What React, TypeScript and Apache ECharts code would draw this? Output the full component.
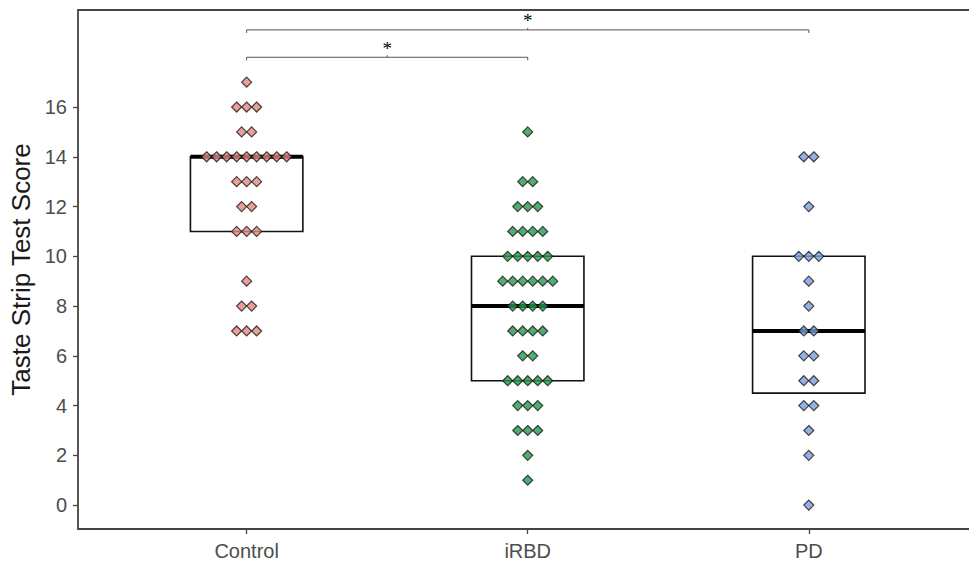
import React, { useEffect, useRef } from "react";
import * as echarts from "echarts";

const categories = ["Control", "iRBD", "PD"];
const controlScores = [17, 16, 16, 16, 15, 15, 14, 14, 14, 14, 14, 14, 14, 14, 14, 13, 13, 13, 12, 12, 11, 11, 11, 9, 8, 8, 7, 7, 7];
const irbdScores = [15, 13, 13, 12, 12, 12, 11, 11, 11, 11, 10, 10, 10, 10, 10, 9, 9, 9, 9, 9, 9, 8, 8, 8, 8, 7, 7, 7, 7, 6, 6, 5, 5, 5, 5, 5, 4, 4, 4, 3, 3, 3, 2, 1];
const pdScores = [14, 14, 12, 10, 10, 10, 9, 8, 7, 7, 6, 6, 5, 5, 4, 4, 3, 2, 0];
const groupColors = ["#E5877F", "#23994A", "#789DE0"];
const boxQ1 = [11, 5, 4.5];
const boxMedian = [14, 8, 7];
const boxQ3 = [14, 10, 10];
const bracketFrom = [1, 1];
const bracketTo = [2, 3];
const bracketY = [18.0, 19.1];
const bracketLabel = ["*", "*"];
const yTicks = [0, 2, 4, 6, 8, 10, 12, 14, 16];

const DOT_STEP = 0.0356;
const BOX_WIDTH = 0.4;

function stackDots(scores: number[], center: number) {
  const counts: Record<string, number> = {};
  scores.forEach((s) => (counts[s] = (counts[s] || 0) + 1));
  const pts: number[][] = [];
  Object.keys(counts).forEach((k) => {
    const n = counts[k];
    for (let i = 0; i < n; i++) {
      pts.push([center + (i - (n - 1) / 2) * DOT_STEP, Number(k)]);
    }
  });
  return pts;
}

export default function App() {
  const ref = useRef<HTMLDivElement>(null);
  useEffect(() => {
    document.body.style.margin = "0";
    const chart = echarts.init(ref.current!, null, { renderer: "svg" });
    const groups = [controlScores, irbdScores, pdScores];
    const axisColor = "#444";
    const font = "Liberation Sans, Arial, sans-serif";
    const option: any = {
      animation: false,
      backgroundColor: "#ffffff",
      grid: { left: 78, right: 0, top: 10, bottom: 38, containLabel: false, outerBoundsMode: "none" },
      xAxis: [
        {
          type: "value",
          min: 0.4,
          max: 3.57,
          splitLine: { show: false },
          axisLine: { show: true, onZero: false, lineStyle: { color: axisColor, width: 1.8 } },
          axisTick: { show: true, length: 5, customValues: [1, 2, 3], lineStyle: { color: axisColor, width: 1.3 } },
          axisLabel: {
            customValues: [1, 2, 3],
            formatter: (v: number) => categories[Math.round(v) - 1] || "",
            color: "#4d4d4d",
            fontSize: 20,
            fontFamily: font,
            margin: 12,
          },
        },
        {
          type: "value",
          position: "top",
          min: 0.4,
          max: 3.57,
          splitLine: { show: false },
          axisLine: { show: true, onZero: false, lineStyle: { color: axisColor, width: 1.8 } },
          axisTick: { show: false },
          axisLabel: { show: false },
        },
      ],
      yAxis: {
        type: "value",
        min: -0.96,
        max: 19.9,
        name: "Taste Strip Test Score",
        nameLocation: "middle",
        nameGap: 42,
        nameRotate: 90,
        nameTextStyle: { color: "#1a1a1a", fontSize: 26, fontFamily: font },
        splitLine: { show: false },
        axisLine: { show: true, onZero: false, lineStyle: { color: axisColor, width: 1.8 } },
        axisTick: { show: true, length: 5, customValues: yTicks, lineStyle: { color: axisColor, width: 1.3 } },
        axisLabel: {
          customValues: yTicks,
          color: "#4d4d4d",
          fontSize: 20,
          fontFamily: font,
          margin: 11,
        },
      },
      series: [
        {
          type: "custom",
          z: 2,
          data: categories.map((_, i) => [i + 1, boxQ1[i], boxMedian[i], boxQ3[i]]),
          renderItem: (params: any, api: any) => {
            const x = api.value(0);
            const q1 = api.value(1);
            const med = api.value(2);
            const q3 = api.value(3);
            const tl = api.coord([x - BOX_WIDTH / 2, q3]);
            const br = api.coord([x + BOX_WIDTH / 2, q1]);
            const ml = api.coord([x - BOX_WIDTH / 2, med]);
            const mr = api.coord([x + BOX_WIDTH / 2, med]);
            return {
              type: "group",
              children: [
                {
                  type: "rect",
                  shape: { x: tl[0], y: tl[1], width: br[0] - tl[0], height: br[1] - tl[1] },
                  style: { fill: "none", stroke: "#111", lineWidth: 1.6 },
                },
                {
                  type: "line",
                  shape: { x1: ml[0], y1: ml[1], x2: mr[0], y2: mr[1] },
                  style: { stroke: "#000", lineWidth: 4 },
                },
              ],
            };
          },
        },
        ...groups.map((scores, gi) => ({
          type: "scatter",
          z: 3,
          symbol: "diamond",
          symbolSize: 10,
          itemStyle: { color: groupColors[gi], borderColor: "#1a1a1a", borderWidth: 1.2 },
          data: stackDots(scores, gi + 1),
        })),
        {
          type: "custom",
          z: 4,
          data: bracketFrom.map((f, i) => [f, bracketTo[i], bracketY[i], i]),
          renderItem: (params: any, api: any) => {
            const x1 = api.value(0);
            const x2 = api.value(1);
            const y = api.value(2);
            const idx = api.value(3);
            const a = api.coord([x1, y]);
            const b = api.coord([x2, y]);
            const mid = (a[0] + b[0]) / 2;
            const stroke = { stroke: "#555", lineWidth: 1, fill: "none" };
            return {
              type: "group",
              children: [
                {
                  type: "polyline",
                  shape: { points: [[a[0], a[1] + 3], [a[0], a[1]], [b[0], b[1]], [b[0], b[1] + 3]] },
                  style: stroke,
                },
                {
                  type: "line",
                  shape: { x1: mid, y1: a[1], x2: mid, y2: a[1] - 2 },
                  style: stroke,
                },
                {
                  type: "text",
                  x: mid,
                  y: a[1] - 9,
                  style: {
                    text: bracketLabel[idx],
                    fill: "#000",
                    fontSize: 19,
                    fontFamily: "Liberation Serif, DejaVu Serif, serif",
                    align: "center",
                    verticalAlign: "middle",
                  },
                },
              ],
            };
          },
        },
      ],
    };
    chart.setOption(option);
    return () => chart.dispose();
  }, []);
  return <div ref={ref} style={{ width: 969, height: 567 }} />;
}
